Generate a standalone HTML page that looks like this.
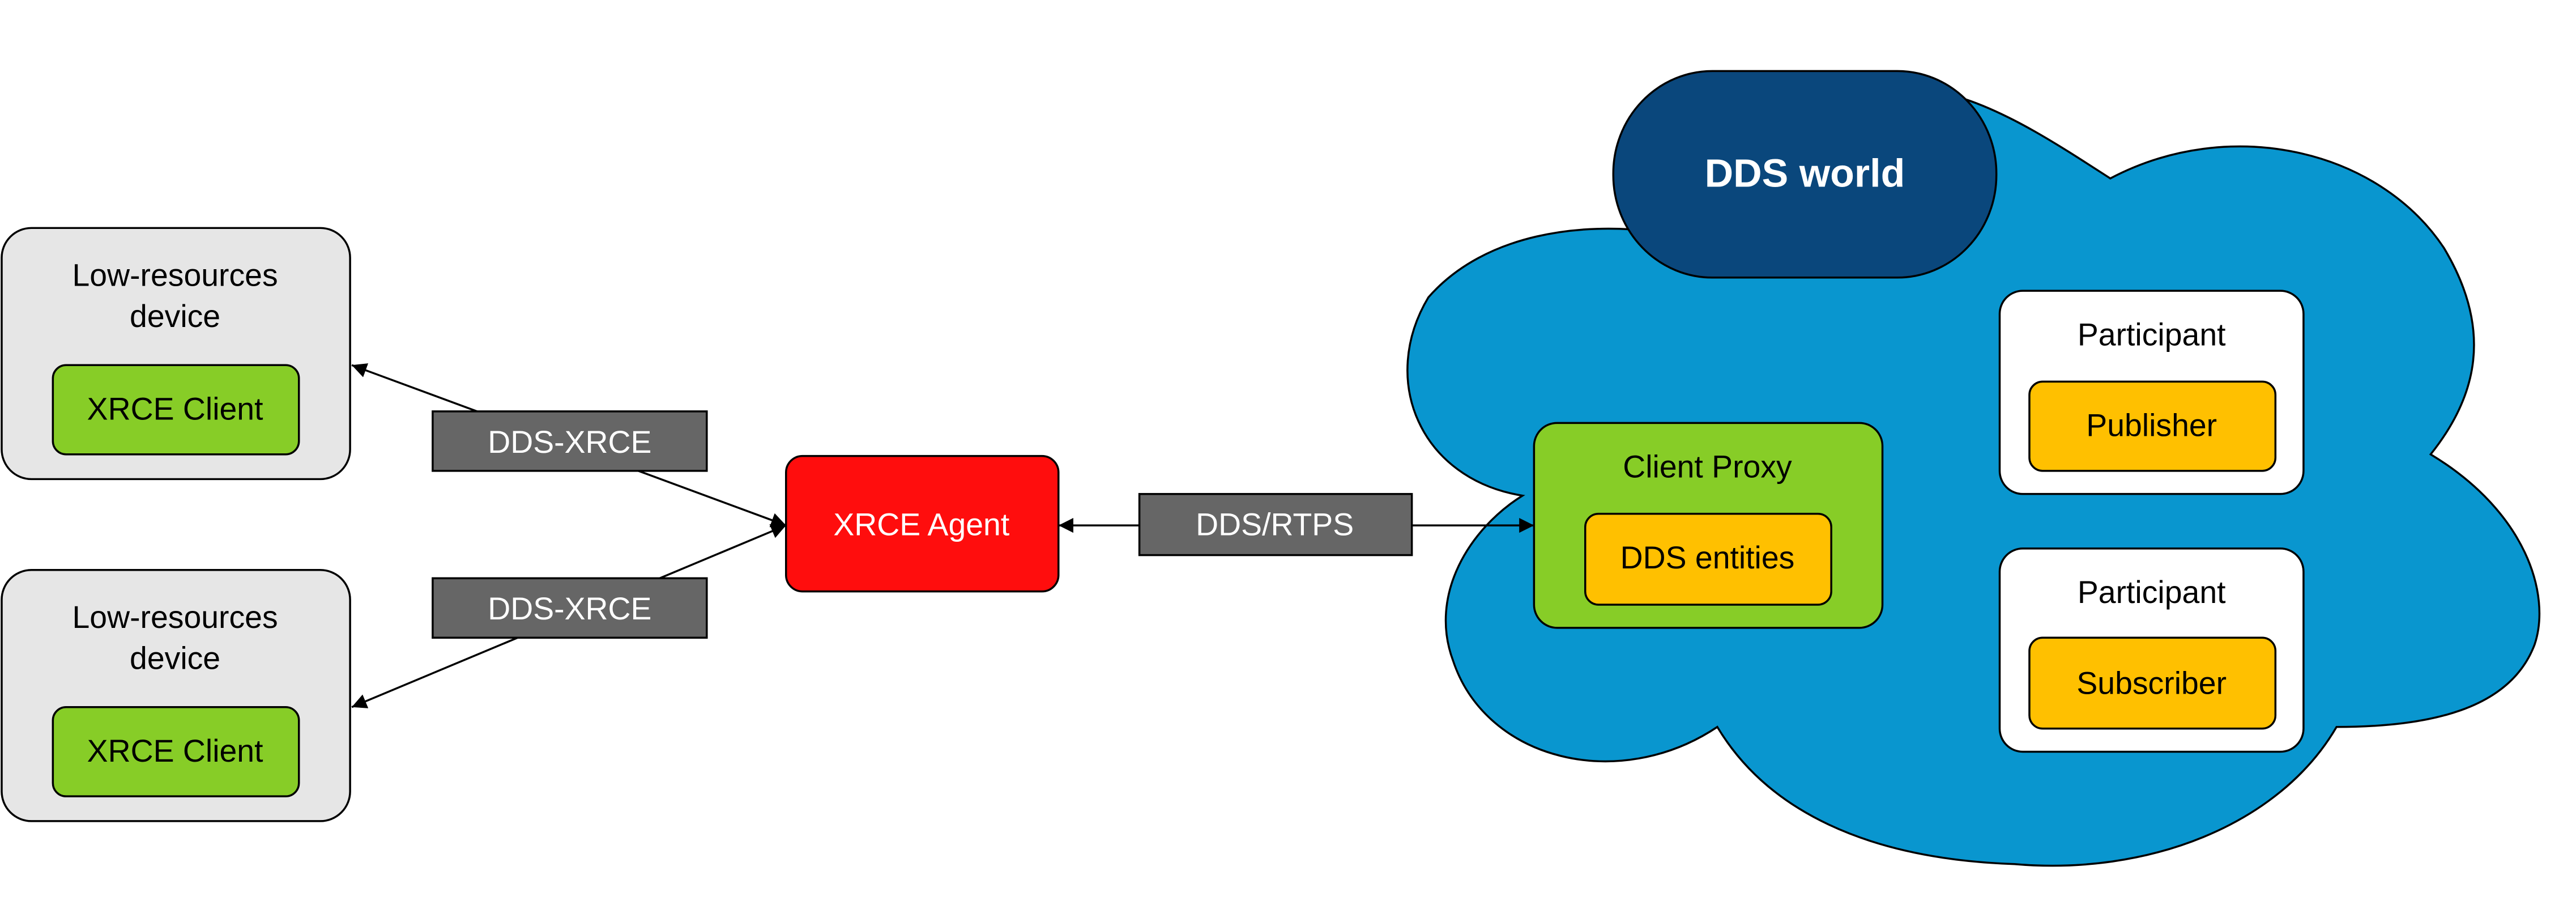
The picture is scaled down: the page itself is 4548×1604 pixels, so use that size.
<!DOCTYPE html>
<html><head><meta charset="utf-8"><style>html,body{margin:0;padding:0;background:#fff}svg{display:block}</style></head>
<body>
<svg width="4548" height="1604" viewBox="0 0 1560 550.2" xmlns="http://www.w3.org/2000/svg" font-family="'Liberation Sans', sans-serif">
<defs>
<marker id="ar" viewBox="0 0 10 10" refX="10" refY="5" markerWidth="9" markerHeight="9" markerUnits="userSpaceOnUse" orient="auto-start-reverse"><path d="M0 0 L10 5 L0 10 Z" fill="#000"/></marker>
</defs>
<rect width="1560" height="551" fill="#fff"/>
<path d="M 922 300 C 860 290, 835 230, 865 180 C 900 140, 960 135, 1000 140 L 1190 60 C 1220 70, 1250 90, 1278 108 C 1350 70, 1440 90, 1480 150 C 1510 200, 1500 240, 1472 275 C 1530 310, 1545 360, 1535 390 C 1520 430, 1470 440, 1415 440 C 1380 500, 1300 530, 1220 523 C 1130 520, 1070 490, 1040 440 C 980 480, 900 460, 880 400 C 865 360, 890 320, 922 300 Z" fill="#0996cf" stroke="#000" stroke-width="1.2"/>
<rect x="977" y="43" width="232" height="125" rx="60" ry="62" fill="#0a477c" stroke="#000" stroke-width="1.2"/>
<text x="1093" y="113" text-anchor="middle" font-size="24" font-weight="bold" fill="#fff">DDS world</text>

<g stroke="#000" stroke-width="1.2">
<rect x="1" y="138" width="211" height="152" rx="18" fill="#e6e6e6"/>
<rect x="32" y="221" width="149" height="54" rx="8" fill="#87cd27"/>
<rect x="1" y="345" width="211" height="152" rx="18" fill="#e6e6e6"/>
<rect x="32" y="428" width="149" height="54" rx="8" fill="#87cd27"/>
</g>
<g font-size="19" text-anchor="middle" fill="#000">
<text x="106" y="173">Low-resources</text><text x="106" y="198">device</text>
<text x="106" y="254">XRCE Client</text>
<text x="106" y="380">Low-resources</text><text x="106" y="405">device</text>
<text x="106" y="461">XRCE Client</text>
</g>

<g stroke="#000" stroke-width="1.2" fill="none">
<line x1="476" y1="318" x2="213" y2="221" marker-start="url(#ar)" marker-end="url(#ar)"/>
<line x1="476" y1="318" x2="213" y2="428" marker-start="url(#ar)" marker-end="url(#ar)"/>
<line x1="641" y1="318" x2="929" y2="318" marker-start="url(#ar)" marker-end="url(#ar)"/>
</g>

<g stroke="#000" stroke-width="1.2" fill="#666">
<rect x="262" y="249" width="166" height="36"/>
<rect x="262" y="350" width="166" height="36"/>
<rect x="690" y="299" width="165" height="37"/>
</g>
<g font-size="19" text-anchor="middle" fill="#fff">
<text x="345" y="274">DDS-XRCE</text>
<text x="345" y="375">DDS-XRCE</text>
<text x="772" y="324">DDS/RTPS</text>
</g>

<rect x="476" y="276" width="165" height="82" rx="10" fill="#ff0d0d" stroke="#000" stroke-width="1.2"/>
<text x="558" y="324" font-size="19" text-anchor="middle" fill="#fff">XRCE Agent</text>

<g stroke="#000" stroke-width="1.2">
<rect x="929" y="256" width="211" height="124" rx="14" fill="#87cd27"/>
<rect x="960" y="311" width="149" height="55" rx="8" fill="#ffc000"/>
<rect x="1211" y="176" width="184" height="123" rx="14" fill="#fff"/>
<rect x="1229" y="231" width="149" height="54" rx="8" fill="#ffc000"/>
<rect x="1211" y="332" width="184" height="123" rx="14" fill="#fff"/>
<rect x="1229" y="386" width="149" height="55" rx="8" fill="#ffc000"/>
</g>
<g font-size="19" text-anchor="middle" fill="#000">
<text x="1034" y="289">Client Proxy</text>
<text x="1034" y="344">DDS entities</text>
<text x="1303" y="209">Participant</text>
<text x="1303" y="264">Publisher</text>
<text x="1303" y="365">Participant</text>
<text x="1303" y="420">Subscriber</text>
</g>
</svg>
</body></html>
